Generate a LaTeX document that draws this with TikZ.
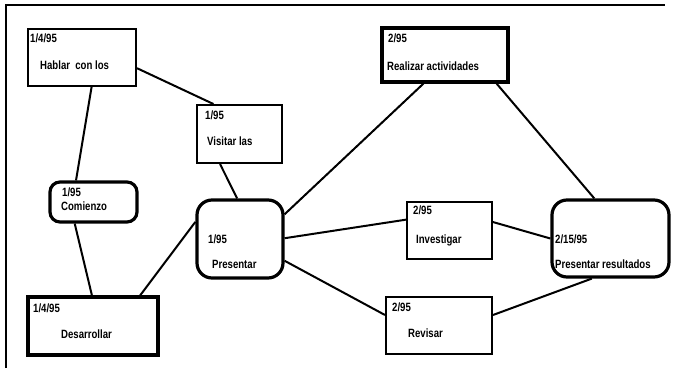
\documentclass[tikz,border=0pt]{standalone}
\usepackage{fontspec}
\setmainfont{Liberation Sans}
\newfontfamily\labelfont[FakeStretch=0.8]{Liberation Sans}
\begin{document}
\begin{tikzpicture}[x=1pt,y=-1pt,
  task/.style={draw=black, line width=2pt, fill=white, inner sep=0pt},
  keytask/.style={task, line width=3.2pt},
  milestone/.style={keytask, rounded corners=#1},
  link/.style={draw=black, line width=2pt},
  txt/.style={anchor=base west, inner sep=0pt, font=\labelfont\fontsize{12}{14}\selectfont\bfseries}
]
\useasboundingbox (0,0) rectangle (694,368);

% partial page frame
\draw[line width=2.2pt] (6,368) coordinate (fl) -- (6,5) coordinate (ftl) -- (665,5) coordinate (ftr);

% activity boxes
\node[task, minimum width=108pt, minimum height=57pt] (hab) at (82,57.5) {};
\node[task, minimum width=85pt, minimum height=58pt] (vis) at (239.5,134) {};
\node[keytask, minimum width=126pt, minimum height=54pt] (rea) at (445,55) {};
\node[milestone=10pt, minimum width=87pt, minimum height=40pt] (com) at (93.5,202) {};
\node[milestone=15pt, minimum width=86pt, minimum height=78pt] (pre) at (240,239) {};
\node[task, minimum width=85pt, minimum height=57pt] (inv) at (449.5,230.5) {};
\node[milestone=15pt, minimum width=117pt, minimum height=77pt] (res) at (610.5,238.5) {};
\node[keytask, minimum width=130pt, minimum height=58pt] (des) at (93,326) {};
\node[task, minimum width=106pt, minimum height=57pt] (rev) at (439,325.5) {};

% links between activities
\draw[link] (hab.-11) -- (vis.131);
\draw[link] (hab.-72.5) -- (com.129.5);
\draw[link] (com.229) -- (des.92);
\draw[link] (vis.237.5) -- (pre.94);
\draw[link] (pre.159.6) -- (des.33.4);
\draw[link] (pre.29) -- (rea.233.5);
\draw[link] (pre.1.3) -- (inv.166);
\draw[link] (pre.-26) -- (rev.169);
\draw[link] (rea.-29.4) -- (res.112);
\draw[link] (inv.11) -- (res.180);
\draw[link] (rev.11) -- (res.245.6);

% dates and activity names
\node[txt] (hab-d) at (30,42) {1/4/95};
\node[txt] (hab-t) at (40,69) {Hablar~ con los};
\node[txt] (vis-d) at (205,119) {1/95};
\node[txt] (vis-t) at (207,145) {Visitar las};
\node[txt] (rea-d) at (388,42) {2/95};
\node[txt] (rea-t) at (387,70) {Realizar actividades};
\node[txt] (com-d) at (62,196) {1/95};
\node[txt] (com-t) at (61,210) {Comienzo};
\node[txt] (pre-d) at (208,243) {1/95};
\node[txt] (pre-t) at (212,268) {Presentar};
\node[txt] (inv-d) at (413,214) {2/95};
\node[txt] (inv-t) at (416,243) {Investigar};
\node[txt] (res-d) at (555,243) {2/15/95};
\node[txt] (res-t) at (555,268) {Presentar resultados};
\node[txt] (des-d) at (33,312) {1/4/95};
\node[txt] (des-t) at (61,338) {Desarrollar};
\node[txt] (rev-d) at (392,311) {2/95};
\node[txt] (rev-t) at (408,337) {Revisar};
\end{tikzpicture}
\end{document}
